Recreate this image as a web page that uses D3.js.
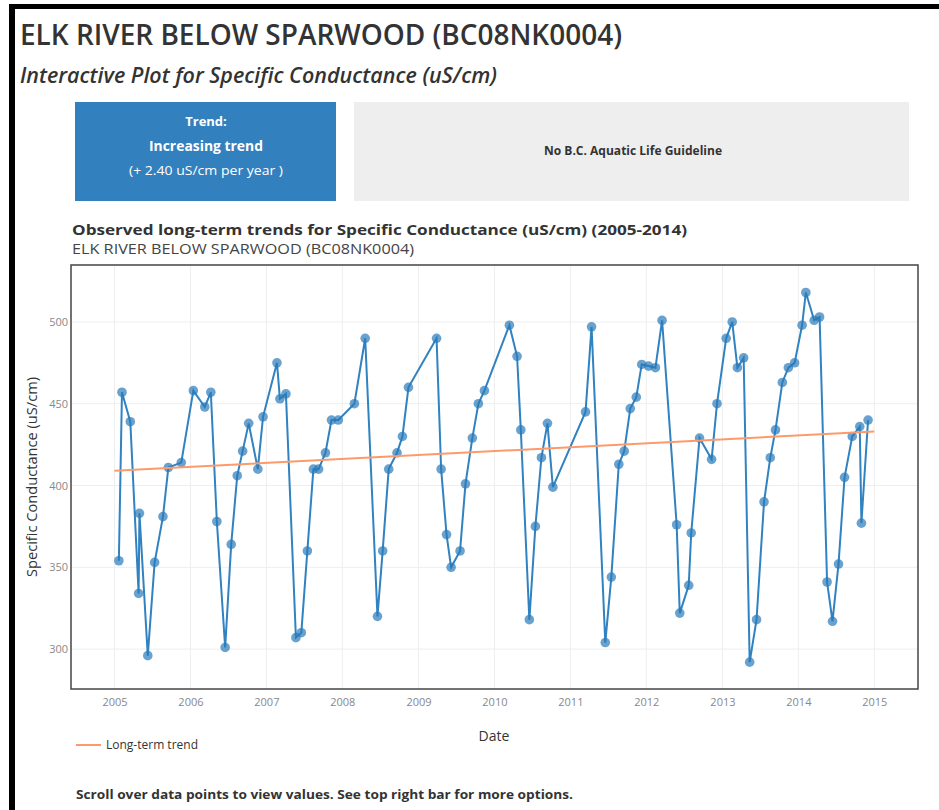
<!DOCTYPE html>
<html lang="en">
<head>
<meta charset="UTF-8">
<title>Elk River below Sparwood - Specific Conductance</title>
<script src="https://d3js.org/d3.v7.min.js"></script>
<style>
    body {
        margin: 0;
        padding: 0;
        background: #ffffff;
        font-family: "Open Sans", Arial, sans-serif;
    }
    svg text { font-family: "Open Sans", Arial, sans-serif; }
    .grid line { stroke: #eeeeee; stroke-width: 1px; }
    .tick-label { fill: #888888; }
</style>
</head>
<body>
<svg id="chart" width="939" height="810"></svg>
<script>
    // sample dates and specific conductance (uS/cm)
    const sampleDates = [
        "2005-01-22","2005-02-06","2005-03-18","2005-04-27","2005-05-01","2005-06-10","2005-07-13","2005-08-22","2005-09-17","2005-11-18",
        "2006-01-15","2006-03-11","2006-04-09","2006-05-08","2006-06-17","2006-07-16","2006-08-14","2006-09-09","2006-10-08","2006-11-21","2006-12-16",
        "2007-02-21","2007-03-07","2007-04-05","2007-05-23","2007-06-18","2007-07-17","2007-08-15","2007-09-09","2007-10-12","2007-11-10","2007-12-13",
        "2008-02-28","2008-04-20","2008-06-18","2008-07-13","2008-08-11","2008-09-20","2008-10-16","2008-11-14",
        "2009-03-29","2009-04-20","2009-05-16","2009-06-07","2009-07-20","2009-08-15","2009-09-17","2009-10-16","2009-11-14",
        "2010-03-14","2010-04-20","2010-05-08","2010-06-18","2010-07-17","2010-08-15","2010-09-13","2010-10-09",
        "2011-03-15","2011-04-13","2011-06-18","2011-07-17","2011-08-22","2011-09-17","2011-10-16","2011-11-14","2011-12-10",
        "2012-01-12","2012-02-14","2012-03-17","2012-05-26","2012-06-10","2012-07-23","2012-08-04","2012-09-13","2012-11-10","2012-12-06",
        "2013-01-19","2013-02-17","2013-03-14","2013-04-13","2013-05-12","2013-06-14","2013-07-20","2013-08-19","2013-09-13","2013-10-16","2013-11-14","2013-12-14",
        "2014-01-19","2014-02-06","2014-03-18","2014-04-13","2014-05-19","2014-06-14","2014-07-13","2014-08-11","2014-09-17","2014-10-23","2014-10-31","2014-12-02"
    ];
    const conductance = [
        354, 457, 439, 334, 383, 296, 353, 381, 411, 414,
        458, 448, 457, 378, 301, 364, 406, 421, 438, 410, 442,
        475, 453, 456, 307, 310, 360, 410, 410, 420, 440, 440,
        450, 490, 320, 360, 410, 420, 430, 460,
        490, 410, 370, 350, 360, 401, 429, 450, 458,
        498, 479, 434, 318, 375, 417, 438, 399,
        445, 497, 304, 344, 413, 421, 447, 454, 474,
        473, 472, 501, 376, 322, 339, 371, 429, 416, 450,
        490, 500, 472, 478, 292, 318, 390, 417, 434, 463, 472, 475,
        498, 518, 501, 503, 341, 317, 352, 405, 430, 436, 377, 440
    ];

    // long-term trend (+2.40 uS/cm per year)
    const trendDates = ["2005-01-01", "2015-01-01"];
    const trendValues = [409, 433];

    const yTicks = [300, 350, 400, 450, 500];
    const xTickYears = [2005, 2006, 2007, 2008, 2009, 2010, 2011, 2012, 2013, 2014, 2015];

    const svg = d3.select("#chart");
    const parse = d3.timeParse("%Y-%m-%d");

    // page frame
    svg.append("rect").attr("x", 9).attr("y", 4).attr("width", 930).attr("height", 5).attr("fill", "#000");
    svg.append("rect").attr("x", 9).attr("y", 4).attr("width", 6).attr("height", 806).attr("fill", "#000");

    // header
    svg.append("text")
        .attr("x", 20).attr("y", 45)
        .attr("font-size", 28).attr("font-weight", 600).attr("fill", "#333")
        .attr("textLength", 602).attr("lengthAdjust", "spacingAndGlyphs")
        .text("ELK RIVER BELOW SPARWOOD (BC08NK0004)");
    svg.append("text")
        .attr("x", 20).attr("y", 83)
        .attr("font-size", 21).attr("font-weight", 600).attr("font-style", "italic").attr("fill", "#333")
        .attr("textLength", 477).attr("lengthAdjust", "spacingAndGlyphs")
        .text("Interactive Plot for Specific Conductance (uS/cm)");

    // info boxes
    svg.append("rect").attr("x", 75).attr("y", 102).attr("width", 261).attr("height", 99).attr("fill", "#3380be");
    svg.append("rect").attr("x", 354).attr("y", 102).attr("width", 555).attr("height", 99).attr("fill", "#eeeeee");
    svg.append("text").attr("x", 206).attr("y", 126).attr("text-anchor", "middle")
        .attr("font-size", 13).attr("font-weight", 700).attr("fill", "#fff").text("Trend:");
    svg.append("text").attr("x", 206).attr("y", 151).attr("text-anchor", "middle")
        .attr("font-size", 14).attr("font-weight", 700).attr("fill", "#fff")
        .attr("textLength", 114).attr("lengthAdjust", "spacingAndGlyphs").text("Increasing trend");
    svg.append("text").attr("x", 206).attr("y", 175).attr("text-anchor", "middle")
        .attr("font-size", 13).attr("fill", "#fff")
        .attr("textLength", 154).attr("lengthAdjust", "spacingAndGlyphs").text("(+ 2.40 uS/cm per year )");
    svg.append("text").attr("x", 633).attr("y", 155).attr("text-anchor", "middle")
        .attr("font-size", 12).attr("font-weight", 700).attr("fill", "#333")
        .attr("textLength", 178).attr("lengthAdjust", "spacingAndGlyphs").text("No B.C. Aquatic Life Guideline");

    // chart titles
    svg.append("text").attr("x", 72).attr("y", 235)
        .attr("font-size", 15).attr("font-weight", 700).attr("fill", "#333")
        .attr("textLength", 615).attr("lengthAdjust", "spacingAndGlyphs")
        .text("Observed long-term trends for Specific Conductance (uS/cm) (2005-2014)");
    svg.append("text").attr("x", 72).attr("y", 254)
        .attr("font-size", 14).attr("fill", "#444")
        .attr("textLength", 342).attr("lengthAdjust", "spacingAndGlyphs")
        .text("ELK RIVER BELOW SPARWOOD (BC08NK0004)");

    // plot area
    const plot = { left: 71, top: 265, right: 918, bottom: 689 };

    const x = d3.scaleTime()
        .domain([new Date(2004, 5, 6), new Date(2015, 6, 30)])
        .range([plot.left, plot.right]);
    const y = d3.scaleLinear()
        .domain([275.6, 534.8])
        .range([plot.bottom, plot.top]);

    const grid = svg.append("g").attr("class", "grid");
    grid.selectAll(".gx").data(xTickYears).enter().append("line")
        .attr("x1", d => x(new Date(d, 0, 1))).attr("x2", d => x(new Date(d, 0, 1)))
        .attr("y1", plot.top).attr("y2", plot.bottom);
    grid.selectAll(".gy").data(yTicks).enter().append("line")
        .attr("x1", plot.left).attr("x2", plot.right)
        .attr("y1", d => y(d)).attr("y2", d => y(d));

    // axes (labels only, plotly-like)
    const xAxis = d3.axisBottom(x)
        .tickValues(xTickYears.map(d => new Date(d, 0, 1)))
        .tickFormat(d3.timeFormat("%Y"))
        .tickSize(0).tickPadding(9);
    const gx = svg.append("g").attr("transform", `translate(0,${plot.bottom})`).call(xAxis);
    gx.select(".domain").remove();
    gx.selectAll("text").attr("class", "tick-label").attr("font-size", 11).attr("font-family", "Open Sans");

    const yAxis = d3.axisLeft(y).tickValues(yTicks).tickSize(0).tickPadding(3);
    const gy = svg.append("g").attr("transform", `translate(${plot.left},0)`).call(yAxis);
    gy.select(".domain").remove();
    gy.selectAll("text").attr("class", "tick-label").attr("font-size", 11).attr("font-family", "Open Sans");

    // data series
    const points = sampleDates.map((d, i) => ({ date: parse(d), value: conductance[i] }));
    const line = d3.line().x(d => x(d.date)).y(d => y(d.value));

    svg.append("path")
        .datum(points)
        .attr("d", line)
        .attr("fill", "none")
        .attr("stroke", "#3182c0")
        .attr("stroke-width", 2);

    svg.selectAll(".pt").data(points).enter().append("circle")
        .attr("class", "pt")
        .attr("cx", d => x(d.date))
        .attr("cy", d => y(d.value))
        .attr("r", 4.8)
        .attr("fill", "#2a7ab9")
        .attr("fill-opacity", 0.7);

    const trend = trendDates.map((d, i) => ({ date: parse(d), value: trendValues[i] }));
    svg.append("path")
        .datum(trend)
        .attr("d", line)
        .attr("fill", "none")
        .attr("stroke", "#fc9a6c")
        .attr("stroke-width", 2);

    // plot border
    svg.append("rect")
        .attr("x", plot.left).attr("y", plot.top)
        .attr("width", plot.right - plot.left).attr("height", plot.bottom - plot.top)
        .attr("fill", "none").attr("stroke", "#444").attr("stroke-width", 1.5);

    // axis titles
    svg.append("text")
        .attr("transform", `translate(37,${(plot.top + plot.bottom) / 2}) rotate(-90)`)
        .attr("text-anchor", "middle")
        .attr("font-size", 14).attr("fill", "#333")
        .attr("textLength", 200).attr("lengthAdjust", "spacingAndGlyphs")
        .text("Specific Conductance (uS/cm)");
    svg.append("text")
        .attr("x", 494).attr("y", 741).attr("text-anchor", "middle")
        .attr("font-size", 14).attr("fill", "#333")
        .text("Date");

    // legend
    svg.append("line").attr("x1", 76).attr("x2", 101).attr("y1", 745).attr("y2", 745)
        .attr("stroke", "#fc9a6c").attr("stroke-width", 2);
    svg.append("text").attr("x", 106).attr("y", 749)
        .attr("font-size", 12).attr("fill", "#333")
        .attr("textLength", 92).attr("lengthAdjust", "spacingAndGlyphs").text("Long-term trend");

    // footer note
    svg.append("text").attr("x", 76).attr("y", 799)
        .attr("font-size", 13).attr("font-weight", 700).attr("fill", "#333")
        .attr("textLength", 497).attr("lengthAdjust", "spacingAndGlyphs")
        .text("Scroll over data points to view values. See top right bar for more options.");
</script>
</body>
</html>
